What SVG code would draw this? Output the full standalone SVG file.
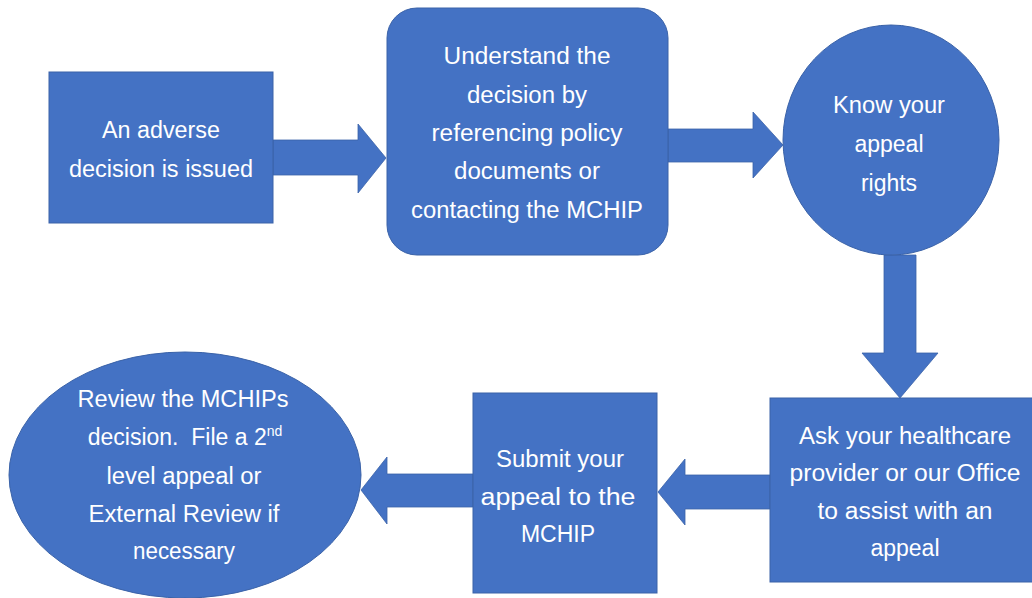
<svg xmlns="http://www.w3.org/2000/svg" width="1032" height="598" viewBox="0 0 1032 598">
<style>
.n{fill:#4472C4;stroke:#3A62A8;stroke-width:1}
.a{fill:#4472C4;stroke:#3A62A8;stroke-width:0.8}
.t{fill:#FFFFFF;font-family:"Liberation Sans",Arial,sans-serif;font-size:23px;text-anchor:middle}
</style>
<rect width="1032" height="598" fill="#FFFFFF"/>
<g id="connectors">
<polygon class="a" points="273,140 358,140 358,124 386,158 358,193 358,175 273,175"/>
<polygon class="a" points="668,129 753,129 753,112 783,145 753,178 753,162 668,162"/>
<polygon class="a" points="884,255 916,255 916,353 938,353 900,398 862,353 884,353"/>
<polygon class="a" points="770,475 685,475 685,459 658,492 685,525 685,509 770,509"/>
<polygon class="a" points="473,474 387,474 387,457 361,490 387,524 387,507 473,507"/>
</g>
<g id="node1">
<rect class="n" x="49" y="72" width="224" height="151"/>
<text class="t" x="161" y="138" textLength="118" lengthAdjust="spacingAndGlyphs">An adverse</text>
<text class="t" x="161" y="177" textLength="184" lengthAdjust="spacingAndGlyphs">decision is issued</text>
</g>
<g id="node2">
<rect class="n" x="387" y="8" width="281" height="247" rx="30" ry="30"/>
<text class="t" x="527" y="64" textLength="167" lengthAdjust="spacingAndGlyphs">Understand the</text>
<text class="t" x="527" y="103" textLength="120" lengthAdjust="spacingAndGlyphs">decision by</text>
<text class="t" x="527" y="141" textLength="191" lengthAdjust="spacingAndGlyphs">referencing policy</text>
<text class="t" x="527" y="179" textLength="146" lengthAdjust="spacingAndGlyphs">documents or</text>
<text class="t" x="527" y="218" textLength="232" lengthAdjust="spacingAndGlyphs">contacting the MCHIP</text>
</g>
<g id="node3">
<ellipse class="n" cx="891" cy="140" rx="108" ry="115"/>
<text class="t" x="889" y="113" textLength="112" lengthAdjust="spacingAndGlyphs">Know your</text>
<text class="t" x="889" y="152">appeal</text>
<text class="t" x="889" y="191">rights</text>
</g>
<g id="node4">
<rect class="n" x="770" y="398" width="270" height="184"/>
<text class="t" x="905" y="444" textLength="212" lengthAdjust="spacingAndGlyphs">Ask your healthcare</text>
<text class="t" x="905" y="481" textLength="231" lengthAdjust="spacingAndGlyphs">provider or our Office</text>
<text class="t" x="905" y="519" textLength="175" lengthAdjust="spacingAndGlyphs">to assist with an</text>
<text class="t" x="905" y="556">appeal</text>
</g>
<g id="node5">
<rect class="n" x="473" y="393" width="184" height="200"/>
<text class="t" x="560" y="467" textLength="128" lengthAdjust="spacingAndGlyphs">Submit your</text>
<text class="t" x="558" y="505" textLength="155" lengthAdjust="spacingAndGlyphs">appeal to the</text>
<text class="t" x="558" y="542">MCHIP</text>
</g>
<g id="node6">
<ellipse class="n" cx="185" cy="475" rx="176" ry="123"/>
<text class="t" x="183" y="407" textLength="211" lengthAdjust="spacingAndGlyphs">Review the MCHIPs</text>
<text class="t" x="185" y="445">decision.&#160; File a 2<tspan font-size="14" dy="-9">nd</tspan></text>
<text class="t" x="184" y="484" textLength="155" lengthAdjust="spacingAndGlyphs">level appeal or</text>
<text class="t" x="184" y="522" textLength="191" lengthAdjust="spacingAndGlyphs">External Review if</text>
<text class="t" x="184" y="559" textLength="102" lengthAdjust="spacingAndGlyphs">necessary</text>
</g>
</svg>
